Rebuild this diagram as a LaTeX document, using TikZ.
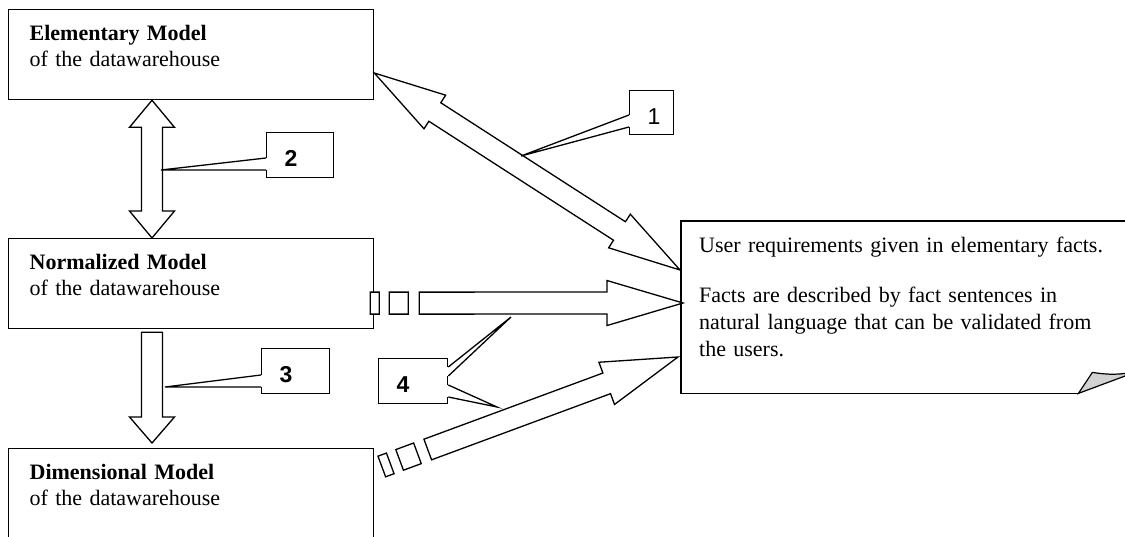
\documentclass[tikz,border=0pt]{standalone}
\usepackage{fontspec}
\setmainfont{Liberation Serif}
\setsansfont{Liberation Sans}
\usetikzlibrary{calc}

\tikzstyle{model} = [rectangle, draw=black, fill=white, line width=1.3pt, anchor=north west, text width=323pt, inner xsep=21pt, inner ysep=0pt, text height=31pt, text depth=59pt, align=left, font=\fontsize{22}{26}\selectfont]
\tikzstyle{callout} = [rectangle, draw=black, fill=white, line width=1.3pt, anchor=north west, inner xsep=18pt, inner ysep=0pt, minimum height=45pt, text height=23pt, text depth=0pt, align=left, font=\sffamily\bfseries\fontsize{23}{26}\selectfont]
\tikzstyle{blockline} = [draw=black, fill=white, line width=1.3pt, line join=miter]
\tikzstyle{wedgeline} = [draw=black, line width=1.3pt]

\newcommand{\blockarrow}[5]{% tail, tip, half shaft, half head, head length
  \coordinate (hb) at ($(#2)!#5!(#1)$);
  \draw[blockline] ($(#1)!#3!90:(#2)$) -- ($(hb)!#3!90:(#2)$) -- ($(hb)!#4!90:(#2)$) -- (#2)
    -- ($(hb)!#4!-90:(#2)$) -- ($(hb)!#3!-90:(#2)$) -- ($(#1)!#3!-90:(#2)$) -- cycle;
}
\newcommand{\twowayarrow}[5]{%
  \coordinate (ha) at ($(#1)!#5!(#2)$);
  \coordinate (hb) at ($(#2)!#5!(#1)$);
  \draw[blockline] (#1) -- ($(ha)!#4!90:(#2)$) -- ($(ha)!#3!90:(#2)$) -- ($(hb)!#3!90:(#2)$) -- ($(hb)!#4!90:(#2)$) -- (#2)
    -- ($(hb)!#4!-90:(#2)$) -- ($(hb)!#3!-90:(#2)$) -- ($(ha)!#3!-90:(#2)$) -- ($(ha)!#4!-90:(#2)$) -- cycle;
}
\newcommand{\stripedarrow}[2]{%
  \foreach \ps/\pe in {0pt/9pt, 19pt/38pt} {
    \coordinate (sa) at ($(#1)!\ps!(#2)$);
    \coordinate (sb) at ($(#1)!\pe!(#2)$);
    \draw[blockline] ($(sa)!11pt!90:(#2)$) -- ($(sb)!11pt!90:(#2)$) -- ($(sb)!11pt!-90:(#2)$) -- ($(sa)!11pt!-90:(#2)$) -- cycle;
  }
  \coordinate (sc) at ($(#1)!49pt!(#2)$);
  \blockarrow{sc}{#2}{11pt}{22.5pt}{76pt}
}
\newcommand{\callwedge}[4]{% box corner, first offset, second offset, tip
  \fill[white] ($(#1)+(-1,#2)$) rectangle ($(#1)+(1,#3)$);
  \draw[wedgeline] ($(#1)+(0,#2)$) -- (#4) -- ($(#1)+(0,#3)$);
}

\begin{document}
\begin{tikzpicture}[x=1pt, y=-1pt]
      \useasboundingbox (0,0) rectangle (1125,537);

      \node (elem) [model] at (8,9) {\textbf{Elementary Model}\\of the datawarehouse};
      \node (norm) [model] at (8,238) {\textbf{Normalized Model}\\of the datawarehouse};
      \node (dim) [model] at (8,448) {\textbf{Dimensional Model}\\of the datawarehouse};

      \node (note) [anchor=north west, text width=420pt, inner xsep=18pt, inner ysep=0pt, text height=31pt, text depth=141pt, align=left, font=\fontsize{22}{27}\selectfont] at (681,221) {User requirements given in elementary facts.\\[23pt]Facts are described by fact sentences in\\natural language that can be validated from\\the users.};
      \draw[line width=1.3pt] ($(note.south east)+(-59,0)$) coordinate (fold) -- (note.south west) -- (note.north west) -- (note.north east);
      \filldraw[line width=1.2pt, fill=gray!35] (fold) -- ++(14,-21) to[bend right=10] ($(note.south east)+(0,-22)$) -- cycle;

      \node (c1) [callout, text width=8pt, minimum height=44pt, font=\sffamily\fontsize{23}{26}\selectfont] at (629,90) {1};
      \node (c2) [callout, text width=31pt] at (266,132) {2};
      \node (c3) [callout, text width=32pt] at (261,348) {3};
      \node (c4) [callout, text width=33pt] at (378,358) {4};

      \coordinate (a1) at ($(elem.south west)+(144,0)$);
      \coordinate (a2) at ($(norm.north west)+(144,0)$);
      \twowayarrow{a1}{a2}{10.5pt}{22.5pt}{27pt}
      \coordinate (a3) at ($(norm.south west)+(144,3)$);
      \coordinate (a4) at ($(dim.north west)+(144,-5)$);
      \blockarrow{a3}{a4}{10.5pt}{22.5pt}{26pt}
      \coordinate (a5) at ($(elem.north east)+(0,64)$);
      \coordinate (a6) at ($(note.north west)+(-1,49)$);
      \twowayarrow{a5}{a6}{11pt}{20pt}{72pt}
      \coordinate (a7) at ($(norm.east)+(-4,19.5)$);
      \coordinate (a8) at ($(note.north west)+(2,82)$);
      \stripedarrow{a7}{a8}
      \coordinate (a9) at ($(dim.north east)+(7.5,18.5)$);
      \coordinate (a10) at ($(note.north west)+(-3,136)$);
      \stripedarrow{a9}{a10}

      \coordinate (t1) at (521,156);
      \coordinate (t2) at (161,170);
      \coordinate (t3) at (165,387);
      \coordinate (t4a) at (511,317);
      \coordinate (t4b) at (497,407);
      \callwedge{c1.north west}{25}{37}{t1}
      \callwedge{c2.north west}{26}{38}{t2}
      \callwedge{c3.north west}{27}{39}{t3}
      \callwedge{c4.north east}{9}{18}{t4a}
      \callwedge{c4.north east}{27}{39}{t4b}
    \end{tikzpicture}
\end{document}
